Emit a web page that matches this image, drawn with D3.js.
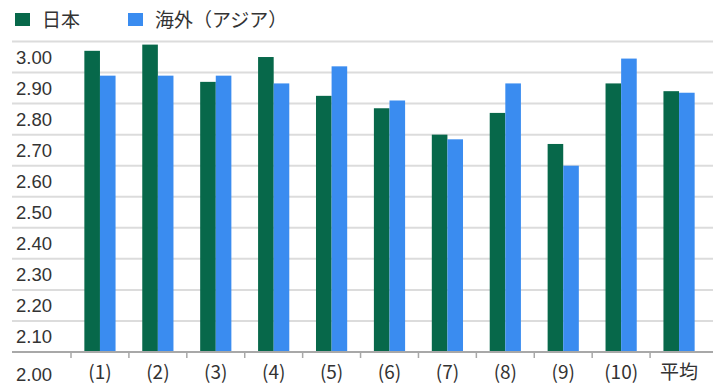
<!DOCTYPE html>
<html>
<head>
<meta charset="utf-8">
<script src="https://cdn.jsdelivr.net/npm/d3@7"></script>
<style>
  html, body { margin: 0; padding: 0; background: #fff; }
  svg { display: block; }
</style>
</head>
<body>
<svg id="chart" width="713" height="385"></svg>
<script>
// Categories along the x axis
const categories = ["(1)", "(2)", "(3)", "(4)", "(5)", "(6)", "(7)", "(8)", "(9)", "(10)", "平均"];

// Series names (legend) and their values
const seriesNames = ["日本", "海外（アジア）"];
const japanValues = [2.97, 2.99, 2.87, 2.95, 2.825, 2.785, 2.70, 2.77, 2.67, 2.865, 2.84];
const asiaValues  = [2.89, 2.89, 2.89, 2.865, 2.92, 2.81, 2.685, 2.865, 2.60, 2.945, 2.835];

// Y tick values
const yTicks = [2.00, 2.10, 2.20, 2.30, 2.40, 2.50, 2.60, 2.70, 2.80, 2.90, 3.00];

const colors = { "日本": "#07684a", "海外（アジア）": "#3a8cf0" };

const svg = d3.select("#chart");
const W = 713, H = 385;
const plot = { left: 71, right: 708, top: 41.5, bottom: 352 };

const x = d3.scaleBand().domain(categories).range([plot.left, plot.right]).padding(0);
const barW = 15.6;
const xInner = d3.scaleBand().domain(seriesNames)
  .range([x.bandwidth() / 2 - barW, x.bandwidth() / 2 + barW]).padding(0);
const y = d3.scaleLinear().domain([2.0, 3.0]).range([plot.bottom, plot.top]);

// Horizontal gridlines
svg.append("g").selectAll("line")
  .data(yTicks.filter(d => d > 2.0))
  .join("line")
  .attr("x1", 12).attr("x2", W)
  .attr("y1", d => y(d)).attr("y2", d => y(d))
  .attr("stroke", "#dcdcdc").attr("stroke-width", 2);

// Y axis labels (sit in the band just below each gridline)
const yAxis = d3.axisLeft(y).tickValues(yTicks).tickFormat(d3.format(".2f")).tickSize(0);
const gy = svg.append("g").attr("transform", "translate(16,0)").call(yAxis);
gy.select(".domain").remove();
gy.selectAll("text")
  .attr("x", 0)
  .attr("text-anchor", "start")
  .attr("dy", d => d === 2.0 ? "28px" : "21.5px")
  .attr("fill", "#333")
  .style("font-family", "'Liberation Sans', Arial, sans-serif")
  .style("font-size", "18.5px");

// Bars
const data = categories.map((c, i) => ({ cat: c, vals: [
  { s: seriesNames[0], v: japanValues[i] },
  { s: seriesNames[1], v: asiaValues[i] }
]}));

const groups = svg.append("g").selectAll("g")
  .data(data).join("g")
  .attr("transform", d => `translate(${x(d.cat)},0)`);

groups.selectAll("rect")
  .data(d => d.vals).join("rect")
  .attr("x", d => xInner(d.s))
  .attr("width", xInner.bandwidth())
  .attr("y", d => y(d.v))
  .attr("height", d => y(2.0) - y(d.v))
  .attr("fill", d => colors[d.s]);

// X axis baseline with ticks between categories
svg.append("line")
  .attr("x1", 12).attr("x2", W)
  .attr("y1", plot.bottom).attr("y2", plot.bottom)
  .attr("stroke", "#a8a8a8").attr("stroke-width", 2);

const xAxis = d3.axisBottom(x).tickSize(0).tickPadding(0);
const gx = svg.append("g").attr("transform", `translate(0,${plot.bottom})`).call(xAxis);
gx.select(".domain").remove();
gx.selectAll("text")
  .attr("y", 20)
  .attr("dy", "0.36em")
  .attr("fill", "#333")
  .style("font-family", "'Noto Sans CJK JP', sans-serif")
  .style("font-size", "19px");

// Small tick marks at band boundaries
svg.append("g").selectAll("line")
  .data(categories)
  .join("line")
  .attr("x1", d => x(d)).attr("x2", d => x(d))
  .attr("y1", plot.bottom).attr("y2", plot.bottom + 6)
  .attr("stroke", "#a8a8a8").attr("stroke-width", 1.5);

// Legend
const legendPos = [15, 128];
const legend = svg.append("g").selectAll("g")
  .data(seriesNames).join("g")
  .attr("transform", (d, i) => `translate(${legendPos[i]},13)`);
legend.append("rect")
  .attr("width", 15).attr("height", 13)
  .attr("fill", d => colors[d]);
legend.append("text")
  .attr("x", 27).attr("y", 13.5)
  .attr("fill", "#333")
  .style("font-family", "'Noto Sans CJK JP', sans-serif")
  .style("font-size", "19px")
  .text(d => d);
</script>
</body>
</html>
